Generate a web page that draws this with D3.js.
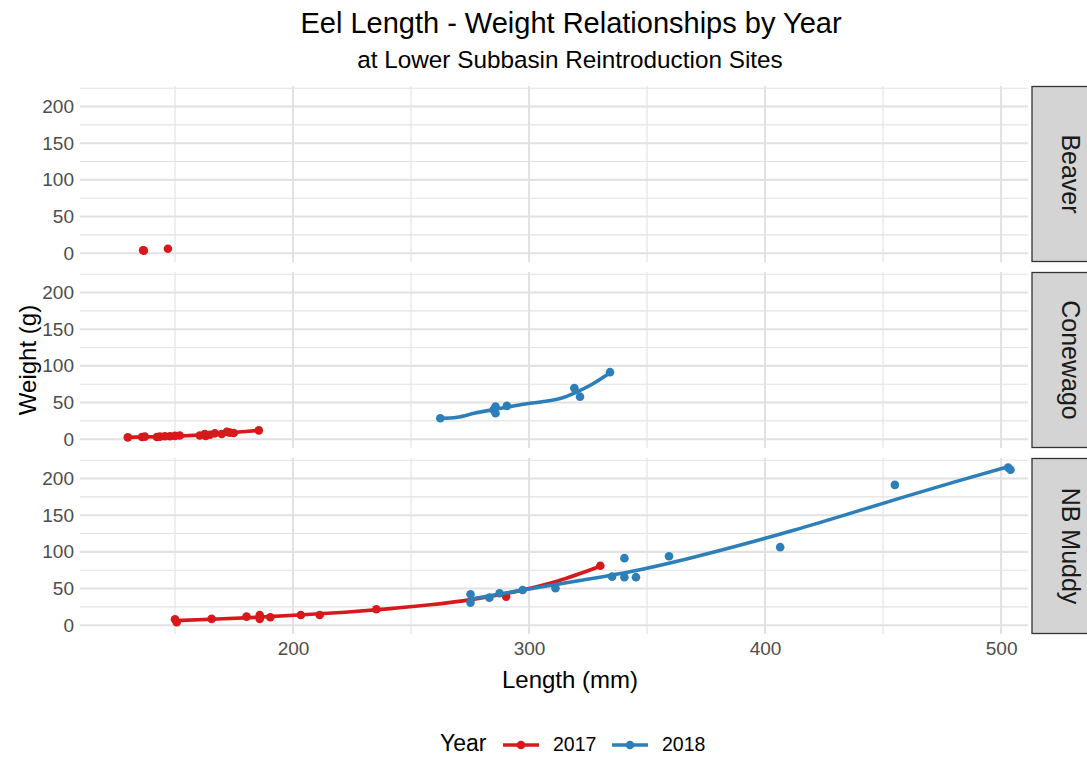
<!DOCTYPE html>
<html><head><meta charset="utf-8">
<script src="https://cdn.jsdelivr.net/npm/d3@7"></script>
<style>
body{margin:0;background:#fff}
svg{display:block}
text{font-family:"Liberation Sans",Arial,Helvetica,sans-serif}
</style>
</head><body>
<svg id="chart" width="1087" height="757"></svg>
<script>
// ---------- data ----------
const sites = ["Beaver", "Conewago", "NB Muddy"];
const years = ["2017", "2018"];
const yearColors = ["#d7191c", "#2c7fb8"];
const xTicks = [200, 300, 400, 500];
const xMinorTicks = [150, 250, 350, 450];
const yTicks = [0, 50, 100, 150, 200];
const yMinorTicks = [25, 75, 125, 175, 225];
const xLimits = [109.75, 511.4];
const yLimits = [-12, 228];

// [length (mm), weight (g)]
const beaver2017 = [[136.5, 4], [136.8, 3.5], [147, 6]];
const beaver2018 = [];
const conewago2017 = [[130, 2.5], [136, 3], [137.2, 3.5], [142.3, 3], [143.6, 3.5], [145.7, 4], [147.9, 4],
  [150, 4.5], [152, 5], [160.5, 5], [162.6, 7], [163, 4.5], [164.8, 6], [166.9, 8], [169.8, 7], [172, 10],
  [173.2, 9], [174.9, 8.5], [185.5, 12]];
const conewago2018 = [[262.4, 28.6], [285, 40], [285.8, 44.5], [285.8, 35.5], [290.6, 45.4], [319.2, 69.6],
  [321.6, 58], [334.3, 91.4]];
const nbmuddy2017 = [[150, 8], [150.7, 4], [165.5, 8.6], [180.3, 11.7], [185.9, 14], [185.9, 8.6], [190.4, 10.9],
  [203.3, 14], [211.3, 14], [235.3, 21.8], [290.3, 39], [330.2, 81]];
const nbmuddy2018 = [[275.2, 42.3], [275.2, 30.8], [283.2, 37.6], [287.5, 43.6], [297.3, 48], [311.2, 50.4],
  [335.2, 66.2], [340.4, 91.4], [340.4, 65.5], [345.3, 65.5], [359.3, 94], [406.4, 106.4], [455, 191.3],
  [503, 215], [504, 212]];

const panelData = [
  [beaver2017, beaver2018],
  [conewago2017, conewago2018],
  [nbmuddy2017, nbmuddy2018]
];

// ---------- loess (local quadratic, span 0.75, tricube weights) ----------
function loessAt(xs, ys, x0, q, minBw) {
  const n = xs.length;
  const dists = xs.map(x => Math.abs(x - x0));
  const sorted = dists.slice().sort((a, b) => a - b);
  const dq = Math.max(sorted[q - 1] * 1.0001 + 1e-9, minBw);
  const S = [0, 0, 0, 0, 0], T = [0, 0, 0];
  for (let i = 0; i < n; i++) {
    const r = dists[i] / dq;
    if (r >= 1) continue;
    const w = Math.pow(1 - r * r * r, 3);
    const u = xs[i] - x0;
    let up = 1;
    for (let m = 0; m < 5; m++) { S[m] += w * up; if (m < 3) T[m] += w * up * ys[i]; up *= u; }
  }
  const A = [[S[0], S[1], S[2], T[0]], [S[1], S[2], S[3], T[1]], [S[2], S[3], S[4], T[2]]];
  for (let c = 0; c < 3; c++) {
    let piv = c;
    for (let r = c + 1; r < 3; r++) if (Math.abs(A[r][c]) > Math.abs(A[piv][c])) piv = r;
    if (Math.abs(A[piv][c]) < 1e-12) {
      const det = S[0] * S[2] - S[1] * S[1];
      return (S[2] * T[0] - S[1] * T[1]) / det;
    }
    [A[c], A[piv]] = [A[piv], A[c]];
    for (let r = 0; r < 3; r++) {
      if (r === c) continue;
      const f = A[r][c] / A[c][c];
      for (let cc = c; cc < 4; cc++) A[r][cc] -= f * A[c][cc];
    }
  }
  return A[0][3] / A[0][0];
}
function loess(pts, span = 0.75, nVert = 11) {
  const n = pts.length;
  if (n < 4) return null;
  const xs = pts.map(p => p[0]), ys = pts.map(p => p[1]);
  const q = Math.max(3, Math.floor(n * span));
  const [lo, hi] = d3.extent(xs);
  const minBw = 0.7 * (hi - lo);
  return d3.range(nVert).map(k => {
    const x0 = lo + (hi - lo) * k / (nVert - 1);
    return [x0, loessAt(xs, ys, x0, q, minBw)];
  });
}

// ---------- layout ----------
const svg = d3.select("#chart");
const panelLeft = 80, panelRight = 1028;
const panelTops = [86, 272, 458];
const panelH = 176;
const stripX = 1032, stripW = 60;
const gridColor = "#e2e2e2";
const tickColor = "#4d4d4d";
const fontFam = '"Liberation Sans",Arial,sans-serif';

const x = d3.scaleLinear().domain(xLimits).range([panelLeft, panelRight]);
const color = d3.scaleOrdinal().domain(years).range(yearColors);

// Titles
svg.append("text").attr("x", 571).attr("y", 33).attr("text-anchor", "middle")
  .attr("font-size", 29).attr("fill", "#000").text("Eel Length - Weight Relationships by Year");
svg.append("text").attr("x", 570).attr("y", 68).attr("text-anchor", "middle")
  .attr("font-size", 24.3).attr("fill", "#000").text("at Lower Subbasin Reintroduction Sites");

sites.forEach((site, pi) => {
  const top = panelTops[pi];
  const y = d3.scaleLinear().domain(yLimits).range([top + panelH, top]);
  const g = svg.append("g");

  g.selectAll(".ymin").data(yMinorTicks).join("line")
    .attr("x1", panelLeft).attr("x2", panelRight)
    .attr("y1", d => y(d)).attr("y2", d => y(d))
    .attr("stroke", gridColor).attr("stroke-width", 1.1);
  g.selectAll(".xmin").data(xMinorTicks).join("line")
    .attr("y1", top).attr("y2", top + panelH)
    .attr("x1", d => x(d)).attr("x2", d => x(d))
    .attr("stroke", gridColor).attr("stroke-width", 1.1);
  g.selectAll(".ymaj").data(yTicks).join("line")
    .attr("x1", panelLeft).attr("x2", panelRight)
    .attr("y1", d => y(d)).attr("y2", d => y(d))
    .attr("stroke", gridColor).attr("stroke-width", 2.1);
  g.selectAll(".xmaj").data(xTicks).join("line")
    .attr("y1", top).attr("y2", top + panelH)
    .attr("x1", d => x(d)).attr("x2", d => x(d))
    .attr("stroke", gridColor).attr("stroke-width", 2.1);

  const yAxis = d3.axisLeft(y).tickValues(yTicks).tickSize(0).tickPadding(6);
  const ya = svg.append("g").attr("transform", `translate(${panelLeft},0)`).call(yAxis);
  ya.select(".domain").remove();
  ya.selectAll("text").attr("font-size", 19).attr("fill", tickColor).attr("font-family", fontFam);

  // strip
  svg.append("rect").attr("x", stripX).attr("y", top + 0.5).attr("width", stripW).attr("height", panelH - 1)
    .attr("fill", "#d4d4d4").attr("stroke", "#333").attr("stroke-width", 1.3);
  svg.append("text")
    .attr("transform", `translate(1071,${top + panelH / 2}) rotate(90)`)
    .attr("text-anchor", "middle").attr("dy", "0.35em")
    .attr("font-size", 25).attr("fill", "#1a1a1a").text(site);

  panelData[pi].forEach((pts, yi) => {
    const col = color(years[yi]);
    const fit = loess(pts);
    if (fit) {
      g.append("path").datum(fit)
        .attr("fill", "none").attr("stroke", col).attr("stroke-width", 3.6)
        .attr("stroke-linejoin", "round")
        .attr("d", d3.line().curve(d3.curveNatural).x(d => x(d[0])).y(d => y(d[1])));
    }
    g.selectAll(null).data(pts).join("circle")
      .attr("cx", d => x(d[0])).attr("cy", d => y(d[1])).attr("r", 4.3)
      .attr("fill", col);
  });
});

// x axis labels
const xAxis = d3.axisBottom(x).tickValues(xTicks).tickSize(0).tickPadding(8);
const xa = svg.append("g").attr("transform", `translate(0,${panelTops[2] + panelH})`).call(xAxis);
xa.select(".domain").remove();
xa.selectAll("text").attr("font-size", 19).attr("fill", tickColor).attr("font-family", fontFam);

// axis titles
svg.append("text").attr("x", 570).attr("y", 688).attr("text-anchor", "middle")
  .attr("font-size", 24).attr("fill", "#000").text("Length (mm)");
svg.append("text").attr("transform", `translate(28,${(panelTops[0] + panelTops[2] + panelH) / 2}) rotate(-90)`)
  .attr("text-anchor", "middle").attr("dy", "0.35em")
  .attr("font-size", 24).attr("fill", "#000").text("Weight (g)");

// legend
const lg = svg.append("g");
const ly = 743;
lg.append("text").attr("x", 440).attr("y", ly).attr("dy", "0.35em")
  .attr("font-size", 23).attr("fill", "#000").text("Year");
const keyX = [503, 612];
years.forEach((yr, i) => {
  const kx = keyX[i];
  lg.append("line").attr("x1", kx).attr("x2", kx + 36).attr("y1", ly + 2).attr("y2", ly + 2)
    .attr("stroke", color(yr)).attr("stroke-width", 3.6);
  lg.append("circle").attr("cx", kx + 18).attr("cy", ly + 2).attr("r", 4.3).attr("fill", color(yr));
  lg.append("text").attr("x", kx + 50).attr("y", ly + 1).attr("dy", "0.35em")
    .attr("font-size", 19.5).attr("fill", "#000").text(yr);
});
</script>
</body></html>
